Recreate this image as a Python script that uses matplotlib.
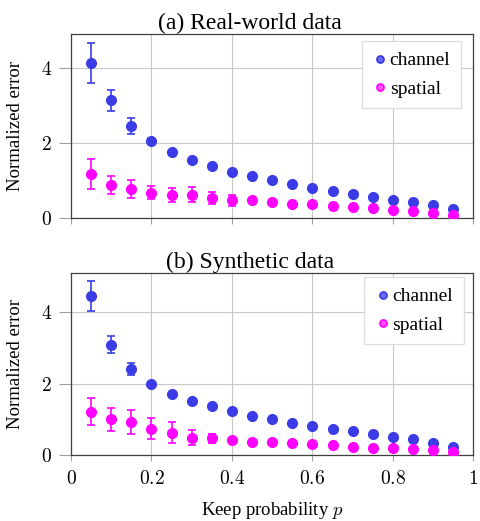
import numpy as np
import matplotlib

matplotlib.use("Agg")
import matplotlib.pyplot as plt
from matplotlib.lines import Line2D

plt.rcParams["font.family"] = ["Liberation Serif", "DejaVu Serif"]
plt.rcParams["mathtext.fontset"] = "cm"

# ------------------------------------------------- data
p = np.round(np.arange(1, 20) * 0.05, 2)

# (a) real-world data
real_channel = [4.13, 3.13, 2.46, 2.04, 1.76, 1.54, 1.38, 1.23, 1.11, 1.00,
                0.90, 0.81, 0.73, 0.65, 0.57, 0.49, 0.42, 0.34, 0.25]
real_channel_err = [0.53, 0.27, 0.21, 0.08, 0.03, 0.02, 0.02, 0.02, 0.02, 0.02,
                    0.02, 0.02, 0.02, 0.02, 0.02, 0.02, 0.02, 0.02, 0.02]
real_spatial = [1.17, 0.89, 0.76, 0.67, 0.62, 0.62, 0.53, 0.47, 0.47, 0.43,
                0.38, 0.36, 0.31, 0.28, 0.26, 0.22, 0.18, 0.14, 0.09]
real_spatial_err = [0.40, 0.24, 0.24, 0.17, 0.19, 0.20, 0.15, 0.14, 0.04, 0.03,
                    0.03, 0.03, 0.03, 0.03, 0.03, 0.03, 0.03, 0.03, 0.03]

# (b) synthetic data
syn_channel = [4.46, 3.09, 2.40, 2.00, 1.72, 1.51, 1.36, 1.22, 1.10, 1.00,
               0.90, 0.82, 0.73, 0.66, 0.59, 0.51, 0.44, 0.35, 0.23]
syn_channel_err = [0.42, 0.24, 0.17, 0.04, 0.02, 0.02, 0.02, 0.02, 0.02, 0.02,
                   0.02, 0.02, 0.02, 0.02, 0.02, 0.02, 0.02, 0.02, 0.02]
syn_spatial = [1.21, 1.00, 0.93, 0.74, 0.63, 0.49, 0.47, 0.42, 0.37, 0.37,
               0.35, 0.31, 0.28, 0.23, 0.20, 0.19, 0.16, 0.14, 0.07]
syn_spatial_err = [0.38, 0.32, 0.33, 0.29, 0.30, 0.21, 0.12, 0.06, 0.04, 0.03,
                   0.03, 0.03, 0.03, 0.03, 0.03, 0.03, 0.03, 0.03, 0.03]

x_ticks = [0, 0.2, 0.4, 0.6, 0.8, 1.0]
x_ticklabels = ["$0$", "$0.2$", "$0.4$", "$0.6$", "$0.8$", "$1$"]
y_ticks = [0, 2, 4]
y_ticklabels = ["$0$", "$2$", "$4$"]

panels = [
    ("(a) Real-world data", real_channel, real_channel_err,
     real_spatial, real_spatial_err, 4.9, (0.969, 0.962)),
    ("(b) Synthetic data", syn_channel, syn_channel_err,
     syn_spatial, syn_spatial_err, 5.1, (0.976, 0.978)),
]

BLUE = "#3c3ce6"
MAGENTA = "#ff00ff"

fig = plt.figure(figsize=(4.81, 5.21), dpi=100)
axes = [fig.add_axes([0.1476, 0.5816, 0.8368, 0.3531]),
        fig.add_axes([0.1476, 0.1267, 0.8368, 0.3493])]

for ax, (title, ch, ch_err, sp, sp_err, ytop, leg_anchor) in zip(axes, panels):
    ax.errorbar(p, ch, yerr=ch_err, fmt="o", ms=7, color=BLUE,
                ecolor=BLUE, elinewidth=1.2, capsize=2.6, capthick=1.2,
                zorder=3)
    ax.errorbar(p, sp, yerr=sp_err, fmt="o", ms=7, color=MAGENTA,
                ecolor=MAGENTA, elinewidth=1.2, capsize=2.6, capthick=1.2,
                zorder=3)
    ax.set_xlim(0, 1)
    ax.set_ylim(0, ytop)
    ax.set_xticks(x_ticks)
    ax.set_yticks(y_ticks, y_ticklabels)
    ax.grid(color="#c8c8c8", lw=0.8)
    ax.set_axisbelow(True)
    for s in ax.spines.values():
        s.set_color("#404040")
        s.set_linewidth(0.9)
    ax.tick_params(axis="x", direction="out", length=4.5, color="#a0a0a0",
                   labelsize=14, pad=6)
    ax.tick_params(axis="y", direction="out", length=8.5, color="#a0a0a0",
                   labelsize=14, pad=5)
    # subcaption is centred on the whole subfigure, not on the axes
    ax.set_title(title, fontsize=17, pad=3, x=0.445)
    ax.set_ylabel("Normalized error", fontsize=13.5)
    handles = [
        Line2D([], [], ls="none", marker="o", ms=5, mfc="#6a6af0", mec=BLUE,
               mew=1.3),
        Line2D([], [], ls="none", marker="o", ms=5, mfc="#ff55ff", mec=MAGENTA,
               mew=1.3),
    ]
    leg = ax.legend(handles, ["channel", "spatial"], loc="upper right",
                    bbox_to_anchor=leg_anchor, borderaxespad=0,
                    fontsize=14, handletextpad=0.1, handlelength=0.8,
                    borderpad=0.55, labelspacing=0.55,
                    fancybox=False, framealpha=1, edgecolor="#dddddd")
    leg.get_frame().set_linewidth(0.9)

axes[0].set_xticklabels([])
axes[1].set_xticklabels(x_ticklabels)
axes[1].set_xlabel("Keep probability $p$", fontsize=13.5, labelpad=9)
for ax in axes:
    ax.yaxis.set_label_coords(-0.118, 0.5)

fig.savefig("out.png", dpi=100)
